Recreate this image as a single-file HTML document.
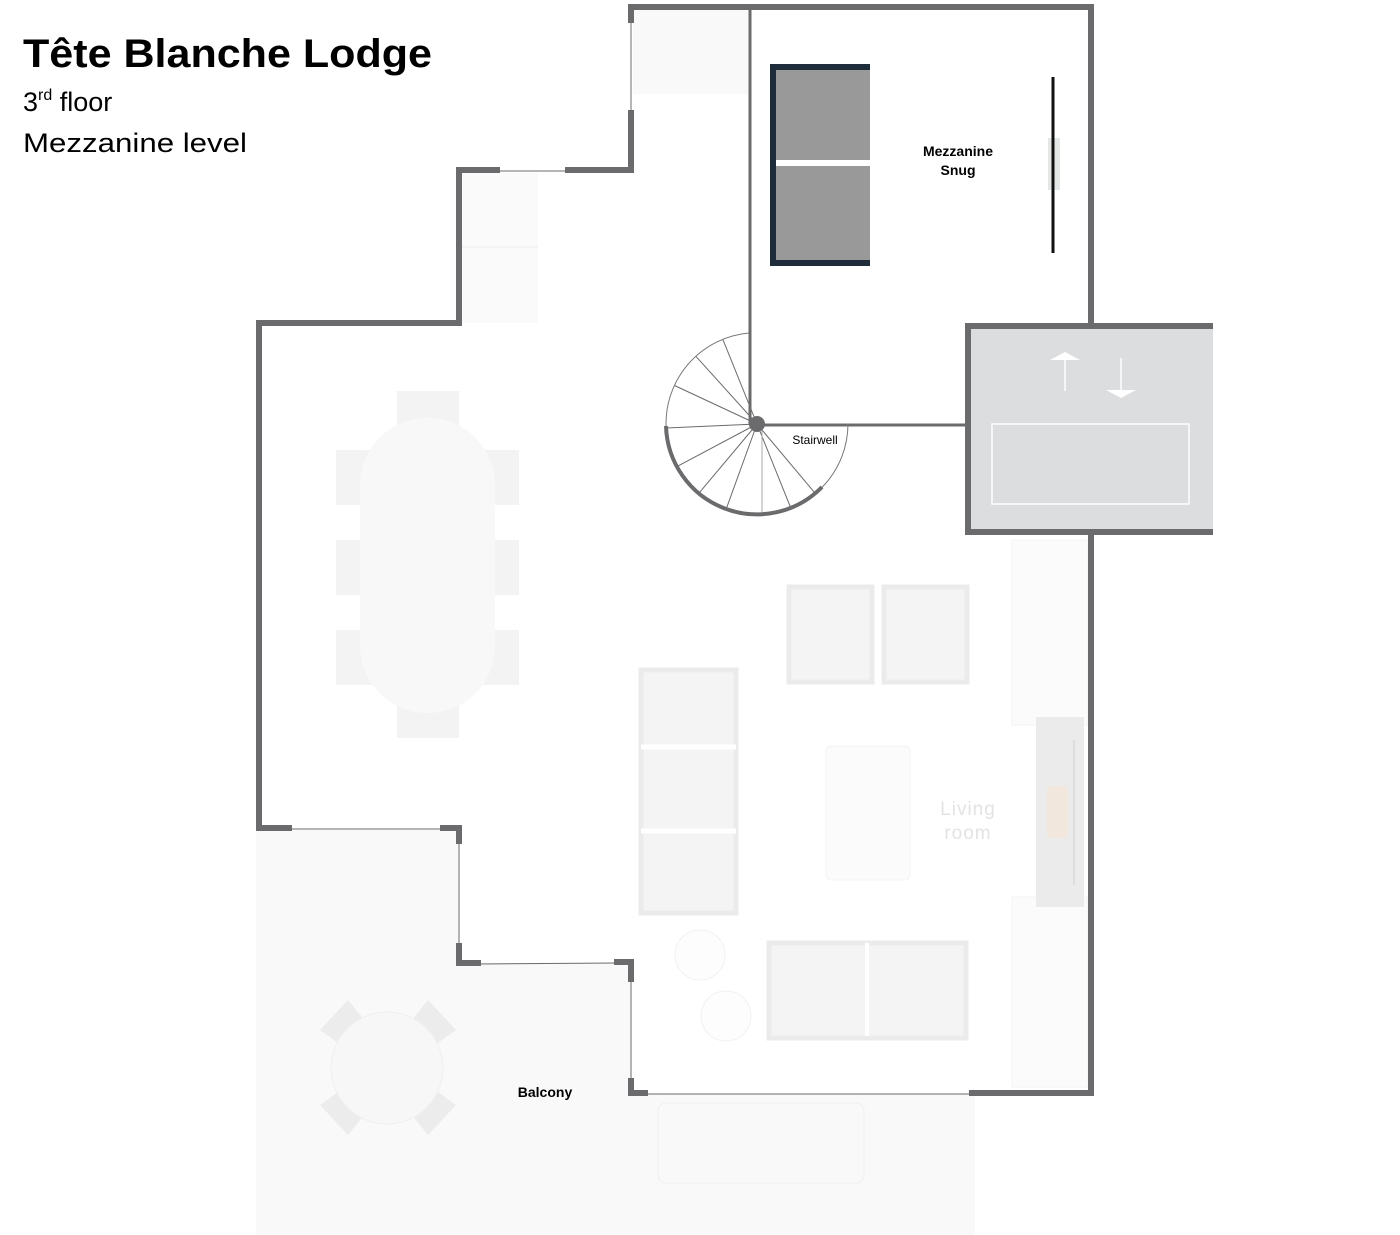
<!DOCTYPE html>
<html><head><meta charset="utf-8"><style>
html,body{margin:0;padding:0;background:#fff;}
body{width:1400px;height:1235px;overflow:hidden;position:relative;font-family:"Liberation Sans",sans-serif;}
</style></head><body>
<svg width="1400" height="1235" viewBox="0 0 1400 1235" xmlns="http://www.w3.org/2000/svg" style="position:absolute;left:0;top:0">
<rect x="256" y="830" width="719" height="405" fill="#f9f9f9"/>
<polygon points="459,830 459,963 631,963 631,1093 975,1093 975,830" fill="#fff"/>
<rect x="1012" y="540" width="76" height="548" fill="#fff"/>
<rect x="633" y="10" width="115" height="84" fill="#f9f9f9"/>
<rect x="462" y="173" width="76" height="150" fill="#fafafa"/>
<line x1="462" y1="247" x2="538" y2="247" stroke="#eee" stroke-width="1"/>
<rect x="1012" y="540" width="76" height="185" fill="#fbfbfb" stroke="#f3f3f3"/>
<rect x="1012" y="897" width="76" height="190" fill="#fbfbfb" stroke="#f3f3f3"/>
<g fill="#f3f3f3">
<rect x="397" y="391" width="62" height="40"/><rect x="397" y="698" width="62" height="40"/>
<rect x="336" y="450" width="40" height="55"/><rect x="336" y="540" width="40" height="55"/><rect x="336" y="630" width="40" height="55"/>
<rect x="479" y="450" width="40" height="55"/><rect x="479" y="540" width="40" height="55"/><rect x="479" y="630" width="40" height="55"/>
</g>
<rect x="360" y="418" width="135" height="295" rx="67" fill="#f8f8f8"/>
<g fill="#f4f4f4" stroke="#ebebeb" stroke-width="5">
<rect x="789" y="587" width="83" height="95"/><rect x="884" y="587" width="83" height="95"/>
<rect x="641" y="670" width="95" height="243"/>
<rect x="769" y="943" width="197" height="95"/>
</g>
<line x1="641" y1="747" x2="736" y2="747" stroke="#fff" stroke-width="5"/>
<line x1="641" y1="831" x2="736" y2="831" stroke="#fff" stroke-width="5"/>
<line x1="867" y1="943" x2="867" y2="1036" stroke="#fff" stroke-width="4"/>
<rect x="826" y="746" width="84" height="134" rx="5" fill="#fbfbfb" stroke="#f3f3f3"/>
<rect x="1036" y="717" width="48" height="190" fill="#ebebeb"/>
<line x1="1074" y1="740" x2="1074" y2="885" stroke="#ddd" stroke-width="2"/>
<rect x="1047" y="786" width="21" height="52" rx="4" fill="#f1e7dc"/>
<text x="968" y="815" font-size="19" fill="#e3e3e3" text-anchor="middle" letter-spacing="1">Living</text>
<text x="968" y="839" font-size="19" fill="#e3e3e3" text-anchor="middle" letter-spacing="1">room</text>
<circle cx="700" cy="955" r="25" fill="#fdfdfd" stroke="#f1f1f1"/>
<circle cx="726" cy="1016" r="25" fill="#fdfdfd" stroke="#f1f1f1"/>
<rect x="658" y="1103" width="206" height="80" rx="8" fill="none" stroke="#efefef"/>
<g fill="#ececec">
<polygon points="348,1000 372,1030 348,1050 320,1030"/>
<polygon points="428,1000 456,1030 428,1050 404,1030"/>
<polygon points="348,1135 372,1105 348,1085 320,1105"/>
<polygon points="428,1135 456,1105 428,1085 404,1105"/>
</g>
<ellipse cx="387" cy="1068" rx="56" ry="56" fill="#f7f7f7" stroke="#efefef"/>
<!-- elevator -->
<rect x="968" y="326" width="245" height="206" fill="#dcdddf"/>
<path d="M1213,326 L968,326 L968,532 L1213,532" fill="none" stroke="#6b6b6e" stroke-width="6"/>
<rect x="992" y="424" width="197" height="80" fill="none" stroke="#fff" stroke-width="1.5"/>
<line x1="1065" y1="358" x2="1065" y2="391" stroke="#fff" stroke-width="1.5"/>
<polygon points="1050,360 1080,360 1065,352" fill="#fff"/>
<line x1="1121" y1="358" x2="1121" y2="391" stroke="#fff" stroke-width="1.5"/>
<polygon points="1106,390 1136,390 1121,398" fill="#fff"/>
<!-- bed -->
<rect x="770" y="64" width="100" height="202" fill="#1f2d3a"/>
<rect x="776" y="70" width="94" height="190" fill="#999"/>
<rect x="776" y="160" width="94" height="6" fill="#fff"/>
<rect x="1048" y="138" width="12" height="52" fill="#e3e8e5"/>
<line x1="1053" y1="77" x2="1053" y2="253" stroke="#111" stroke-width="3"/>
<g fill="none" stroke="#6b6b6e" stroke-width="6" stroke-linecap="square">
<path d="M631,20 L631,7 L1091,7 L1091,325"/>
<path d="M1091,532 L1091,1093 L972,1093"/>
<path d="M645,1093 L631,1093 L631,1081"/>
<path d="M617,962 L631,962 L631,979"/>
<path d="M478,963 L459,963 L459,946"/>
<path d="M443,828 L459,828 L459,841"/>
<path d="M289,828 L259,828 L259,323 L459,323 L459,170 L497,170"/>
<path d="M568,170 L631,170 L631,113"/>
</g>
<g fill="none" stroke="#6b6b6e" stroke-width="1">
<line x1="631" y1="20" x2="631" y2="113"/>
<line x1="497" y1="171" x2="568" y2="171"/>
<line x1="289" y1="829" x2="443" y2="829"/>
<line x1="459" y1="841" x2="459" y2="946"/>
<line x1="478" y1="964" x2="617" y2="963"/>
<line x1="631" y1="979" x2="631" y2="1081"/>
<line x1="645" y1="1094" x2="972" y2="1094"/>
</g>
<line x1="750" y1="10" x2="750" y2="425" stroke="#6b6b6e" stroke-width="3"/>
<line x1="757" y1="425" x2="968" y2="425" stroke="#6b6b6e" stroke-width="3"/>
<path d="M848,424 A91,91 0 1 1 749,333" fill="none" stroke="#777" stroke-width="1"/>
<g stroke="#6b6b6e" stroke-width="1">
<line x1="757" y1="424" x2="815.5" y2="493.7"/>
<line x1="757" y1="424" x2="791" y2="508.4"/>
<line x1="762" y1="424" x2="762" y2="515" stroke="#aaa"/>
<line x1="757" y1="424" x2="726" y2="509.5"/>
<line x1="757" y1="424" x2="698.5" y2="493.7"/>
<line x1="757" y1="424" x2="676.7" y2="466.7"/>
<line x1="757" y1="424" x2="666" y2="428"/>
<line x1="757" y1="424" x2="674.5" y2="385.5"/>
<line x1="757" y1="424" x2="696" y2="356.4"/>
<line x1="757" y1="424" x2="722.9" y2="339.6"/>
</g>
<path d="M666,426 A91,91 0 0 0 822,487" fill="none" stroke="#6b6b6e" stroke-width="4"/>
<circle cx="757" cy="424" r="8" fill="#6b6b6e"/>
<text x="958" y="156" font-size="14" font-weight="bold" text-anchor="middle" fill="#000">Mezzanine</text>
<text x="958" y="175" font-size="14" font-weight="bold" text-anchor="middle" fill="#000">Snug</text>
<text x="815" y="444" font-size="12" text-anchor="middle" fill="#000">Stairwell</text>
<text x="545" y="1097" font-size="14" font-weight="bold" text-anchor="middle" fill="#000">Balcony</text>
<text x="23" y="67" font-size="40" font-weight="bold" fill="#000" textLength="409" lengthAdjust="spacingAndGlyphs">Tête Blanche Lodge</text>
<text x="23" y="111" font-size="27" fill="#000">3<tspan font-size="16" dy="-11">rd</tspan><tspan dy="11"> floor</tspan></text>
<text x="23" y="152" font-size="27" fill="#000" textLength="224" lengthAdjust="spacingAndGlyphs">Mezzanine level</text>
</svg>
</body></html>
